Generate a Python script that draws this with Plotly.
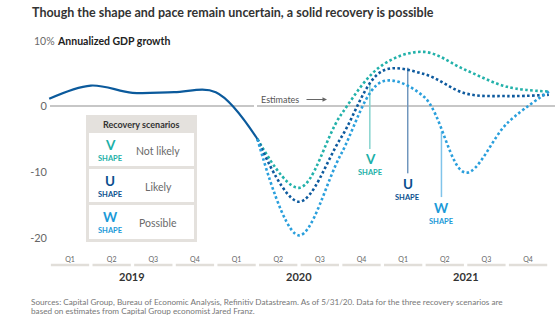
import plotly.graph_objects as go

# ---- data -------------------------------------------------------------
years = ["2019", "2020", "2021"]
quarter_labels = ["Q1", "Q2", "Q3", "Q4"] * 3

# Annualized GDP growth (%), quarter ends from Q4 2018 to Q1 2020
actual_growth = [1.1, 3.1, 2.0, 2.1, 2.1, -5.0]

# Scenario paths, quarter ends from Q1 2020 to Q4 2021
v_shape = [-5.0, -12.4, -1.4, 6.2, 8.2, 5.45, 2.9, 2.2]
u_shape = [-5.0, -14.5, -4.9, 5.3, 4.85, 1.9, 1.5, 1.7]
w_shape = [-5.0, -19.6, -7.4, 3.7, 1.4, -10.1, -2.6, 2.2]

scenario_names = ["V", "U", "W"]
scenario_likelihood = ["Not likely", "Likely", "Possible"]

y_ticks = [0, -10, -20]
y_tick_text = ["0", "-10", "-20"]

# ---- styling ----------------------------------------------------------
FONT = "Lato"
W, H = 559, 328
ML, MB = 48, 78
PW, PH = W - ML, H - MB

COL_ACTUAL = "#0b5a9c"
COL_V = "#22b1aa"
COL_U = "#0d5a9e"
COL_W = "#2a9fdc"
LBL_V = "#1cb0a8"
LBL_U = "#0b4f8f"
LBL_W = "#1b9ad8"


def xp(px):
    return (px - ML) / PW


def yp(py):
    return (PH - py) / PH


x_actual = list(range(len(actual_growth)))
start = len(actual_growth) - 1
x_scen = list(range(start, start + len(v_shape)))

fig = go.Figure()

fig.add_trace(go.Scatter(
    x=x_actual, y=actual_growth, mode="lines",
    line=dict(color=COL_ACTUAL, width=2.2, shape="spline", smoothing=1.0),
    hoverinfo="skip", showlegend=False,
))
for vals, col in [(v_shape, COL_V), (u_shape, COL_U), (w_shape, COL_W)]:
    fig.add_trace(go.Scatter(
        x=x_scen, y=vals, mode="lines",
        line=dict(color=col, width=2.6, dash="2.6px,2.4px",
                  shape="spline", smoothing=1.0),
        hoverinfo="skip", showlegend=False,
    ))

shapes = []
# zero line with a short break before the estimates
for a, b in [(50, 254), (257, 555)]:
    shapes.append(dict(type="line", xref="paper", yref="y", x0=xp(a), x1=xp(b),
                       y0=0, y1=0, line=dict(color="#b4b4b4", width=1.4),
                       layer="below"))
# quarter underline segments
for i in range(len(quarter_labels)):
    shapes.append(dict(type="line", xref="x", yref="paper", x0=i + 0.04, x1=i + 0.96,
                       y0=yp(265), y1=yp(265), line=dict(color="#e1ded9", width=2.5)))
# pointer lines for the scenario labels
for xk, y0, y1, col in [(7.70, 3.5, -6.5, "#86d4cf"),
                        (8.61, 5.8, -10.2, "#7096bd"),
                        (9.42, -3.9, -13.8, "#80c4ea")]:
    shapes.append(dict(type="line", xref="x", yref="y", x0=xk, x1=xk, y0=y0, y1=y1,
                       line=dict(color=col, width=1.5), layer="below"))
# scenario table
shapes.append(dict(type="rect", xref="paper", yref="paper", x0=xp(86), x1=xp(197),
                   y0=yp(242), y1=yp(115), fillcolor="#e4e1dd", line=dict(width=0)))
rows = [(133, 166), (169, 202), (205, 239)]
for top, bot in rows:
    shapes.append(dict(type="rect", xref="paper", yref="paper", x0=xp(89), x1=xp(194),
                       y0=yp(bot), y1=yp(top), fillcolor="white", line=dict(width=0)))

ann = []


def text(px, py, s, size, color, bold=False, xanchor="left"):
    ann.append(dict(xref="paper", yref="paper", x=xp(px), y=yp(py), text=s,
                    showarrow=False, xanchor=xanchor, yanchor="middle",
                    font=dict(family=FONT, size=size, color=color,
                              weight="bold" if bold else "normal")))


text(30, 12, "Though the shape and pace remain uncertain, a solid recovery is possible",
     12.5, "#333333", bold=True)
text(32, 41, "10%", 10.5, "#6a6a6a")
text(55, 41, "Annualized GDP growth", 10.5, "#222222", bold=True)
text(259, 99.5, "Estimates", 9, "#555555")
ann.append(dict(xref="paper", yref="paper", x=xp(327), y=yp(99.5), ax=-22, ay=0,
                text="", showarrow=True, arrowhead=2, arrowsize=0.9,
                arrowwidth=1, arrowcolor="#666666"))

# scenario labels on the chart
for s, px, py1, py2, col in [("V", 370, 158.5, 172, LBL_V),
                             ("U", 407.7, 184, 197.5, LBL_U),
                             ("W", 441, 207.5, 221, LBL_W)]:
    text(px, py1, s, 13.5, col, bold=True, xanchor="center")
    text(px, py2, "SHAPE", 7.5, col, bold=True, xanchor="center")

# table content
text(141, 124, "Recovery scenarios", 9, "#333333", bold=True, xanchor="center")
for (top, bot), s, lk, col in zip(rows, scenario_names, scenario_likelihood,
                                  [LBL_V, LBL_U, LBL_W]):
    mid = (top + bot) / 2
    text(110, mid - 5, s, 13.5, col, bold=True, xanchor="center")
    text(110, mid + 8.5, "SHAPE", 7.5, col, bold=True, xanchor="center")
    text(158, mid + 1, lk, 10.5, "#6a6a6a", xanchor="center")

# year labels
for i, yr in enumerate(years):
    ann.append(dict(xref="x", yref="paper", x=2 + 4 * i, y=yp(276), text=yr,
                    showarrow=False, yanchor="middle",
                    font=dict(family=FONT, size=11, color="#333333", weight="bold")))

text(29, 301.5, "Sources: Capital Group, Bureau of Economic Analysis, Refinitiv Datastream. "
     "As of 5/31/20. Data for the three recovery scenarios are", 8.2, "#777777")
text(29, 311, "based on estimates from Capital Group economist Jared Franz.", 8.2, "#777777")

fig.update_layout(
    width=W, height=H,
    margin=dict(l=ML, r=0, t=0, b=MB),
    paper_bgcolor="white", plot_bgcolor="white",
    shapes=shapes, annotations=ann,
    xaxis=dict(range=[(ML - 49.2) / 41.64, (W - 49.2) / 41.64],
               tickvals=[i + 0.5 for i in range(len(quarter_labels))],
               ticktext=quarter_labels, showgrid=False, zeroline=False,
               showline=False, ticks="outside", ticklen=3,
               tickcolor="rgba(0,0,0,0)",
               tickfont=dict(family=FONT, size=7, color="#666666")),
    yaxis=dict(range=[(106 - PH) / 6.6, 106 / 6.6], tickvals=y_ticks,
               ticktext=y_tick_text, showgrid=False, zeroline=False,
               showline=False, ticks="",
               tickfont=dict(family=FONT, size=11, color="#666666")),
)

fig.write_html("out.html")
